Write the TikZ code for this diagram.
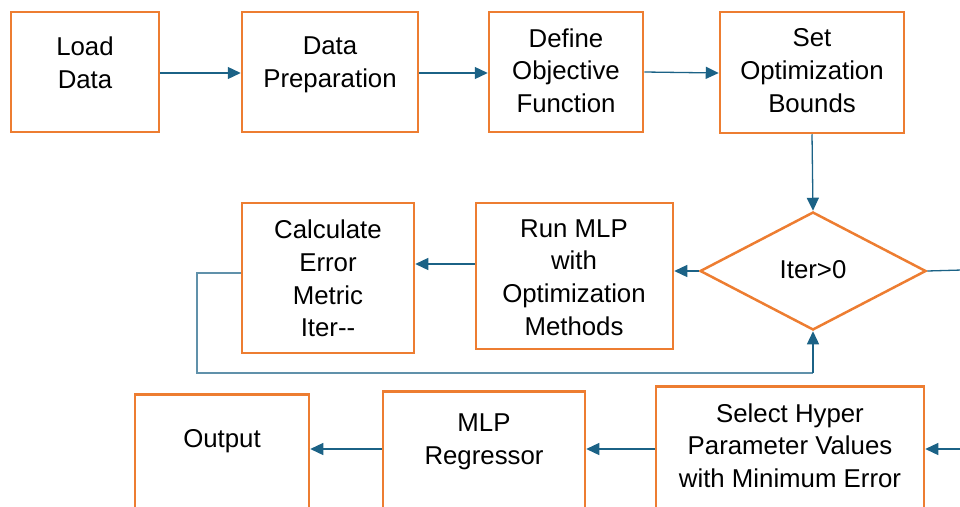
\documentclass[tikz,border=0pt]{standalone}
\usepackage{fontspec}
\setmainfont{Liberation Sans}
\usetikzlibrary{shapes.geometric,arrows.meta}
\definecolor{boxorange}{RGB}{237,125,49}
\definecolor{arrowblue}{RGB}{27,98,134}
\definecolor{loopblue}{RGB}{96,145,170}
\begin{document}
\begin{tikzpicture}[x=1pt,y=-1pt,
  box/.style={draw=boxorange, line width=2.5pt, rectangle, inner sep=0pt},
  txt/.style={align=center, font=\fontsize{25.8}{32.7}\selectfont, inner sep=0pt},
  conn/.style={draw=arrowblue, line width=1.3pt},
  arr/.style={conn, -{Triangle[length=13pt,width=12pt]}}]
\useasboundingbox (0,0) rectangle (960,506);
\clip (0,0) rectangle (960,506);
% top row
\node[box, minimum width=148, minimum height=120] (ld) at (85,72) {};
\node[txt] (ldT) at (85,63) {Load\\Data};
\node[box, minimum width=176, minimum height=120] (dp) at (330,72) {};
\node[txt] (dpT) at (330,64.5) {Data\\Preparation};
\node[box, minimum width=154, minimum height=120] (def) at (566,72) {};
\node[txt] (defT) at (566,70.5) {Define\\Objective\\Function};
\node[box, minimum width=184, minimum height=121] (set) at (812,72.5) {};
\node[txt] (setT) at (812,70.5) {Set\\Optimization\\Bounds};
% middle row
\node[draw=boxorange, line width=2.5pt, shape=diamond, minimum width=226, minimum height=118, inner sep=0pt] (dia) at (813,271) {};
\node[txt] (diaT) at (813,270) {Iter>0};
\node[box, minimum width=197, minimum height=146] (run) at (574.5,276) {};
\node[txt] (runT) at (574,277.5) {Run MLP\\with\\Optimization\\Methods};
\node[box, minimum width=172, minimum height=150] (calc) at (328,278) {};
\node[txt] (calcT) at (328,278.5) {Calculate\\Error\\Metric\\Iter-{}-};
% bottom row (cut by the page edge)
\node[box, anchor=north, minimum width=174, minimum height=160] (out) at (222,393) {};
\node[txt] (outT) at (222,441) {Output};
\node[box, anchor=north, minimum width=202, minimum height=160] (mlp) at (484,390) {};
\node[txt] (mlpT) at (484,442) {MLP\\Regressor};
\node[box, anchor=north, minimum width=268, minimum height=160] (sel) at (790,385) {};
\node[txt] (selT) at (790,445.5) {Select Hyper\\Parameter Values\\with Minimum Error};
% free ends
\coordinate (rightA) at (962,270);
\coordinate (rightB) at (962,449);
\coordinate (lpA) at (197,273);
\coordinate (lpB) at (197,373);
\coordinate (lpC) at (813,373);
% connectors
\draw[arr] (ld.east |- 0,73) -- (dp.west |- 0,73);
\draw[arr] (dp.east |- 0,73) -- (def.west |- 0,73);
\draw[arr] (def.east |- 0,72) -- (set.west |- 0,73);
\draw[arr] (set.south) -- (dia.north);
\draw[arr] (dia.west) -- (dia.west -| run.east);
\draw[arr] (run.west |- 0,264) -- (calc.east |- 0,264);
\draw[loopblue, line width=1.3pt] (calc.west |- lpA) -- (lpA) -- (lpB) -- (lpC);
\draw[arr] (lpC) -- (dia.south);
\draw[conn] (dia.east) -- (rightA);
\draw[arr] (rightB) -- (sel.east |- rightB);
\draw[arr] (sel.west |- 0,449) -- (mlp.east |- 0,449);
\draw[arr] (mlp.west |- 0,449) -- (out.east |- 0,449);
\end{tikzpicture}
\end{document}
